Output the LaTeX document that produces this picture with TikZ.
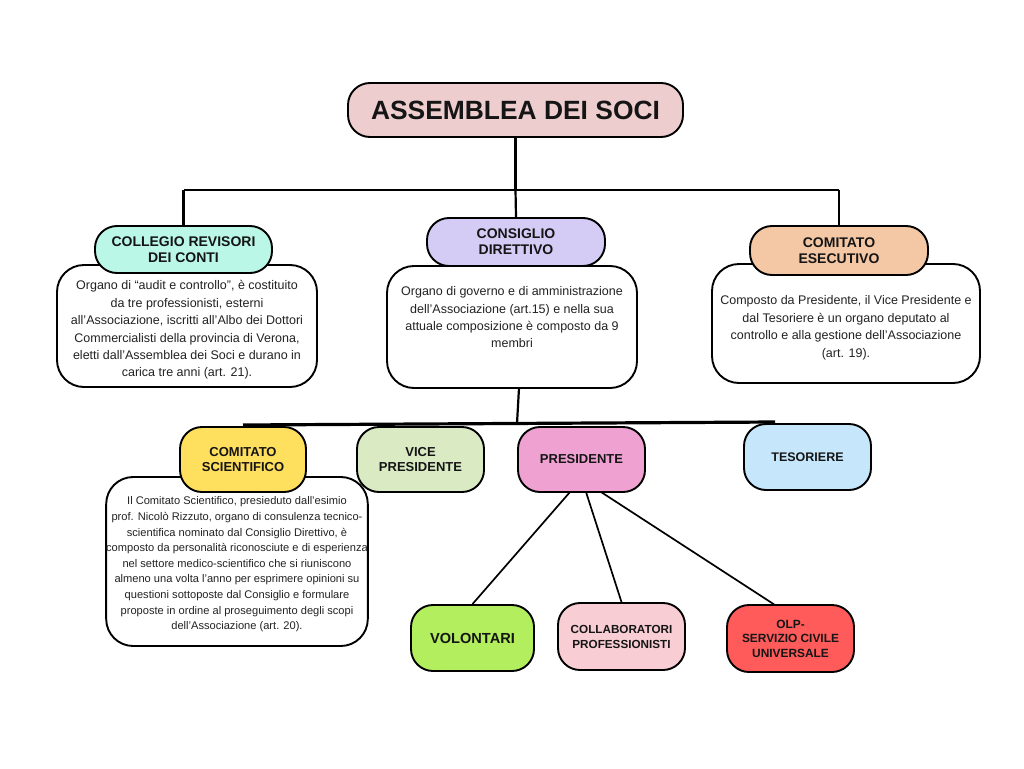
\documentclass[tikz,border=0pt]{standalone}
\usepackage{fontspec}
\setmainfont{Liberation Sans}
\usetikzlibrary{calc}
\definecolor{cAss}{HTML}{EECDCF}
\definecolor{cCol}{HTML}{BAF7E7}
\definecolor{cCon}{HTML}{D4CCF5}
\definecolor{cEse}{HTML}{F5C8A5}
\definecolor{cSci}{HTML}{FFDF5E}
\definecolor{cVic}{HTML}{DAEBC4}
\definecolor{cPre}{HTML}{EFA2D2}
\definecolor{cTes}{HTML}{C6E6FB}
\definecolor{cVol}{HTML}{B2EE5E}
\definecolor{cClb}{HTML}{F8CED4}
\definecolor{cOlp}{HTML}{FF5B5B}
\definecolor{txt}{HTML}{151515}
\definecolor{dtxt}{HTML}{222222}
\newcommand{\pushdn}[1]{\rule{0pt}{#1}}
\tikzset{
  titlebox/.style={draw=black, line width=1.9pt, rounded corners=22pt, align=center,
    inner sep=0pt, text=txt, font=\bfseries\fontsize{14}{16}\selectfont},
  smallbox/.style={titlebox, font=\bfseries\fontsize{13}{15}\selectfont,
    minimum width=127pt, minimum height=65pt},
  descbox/.style={draw=black, line width=1.9pt, rounded corners=27pt, fill=white,
    align=center, inner sep=0pt, text=dtxt, font=\fontsize{12.5}{17.4}\selectfont},
  link/.style={draw=black, line width=2.2pt},
  bus/.style={draw=black, line width=3.2pt}
}
\begin{document}
\begin{tikzpicture}[x=1pt,y=-1pt]
\useasboundingbox (0,0) rectangle (1024,768);
\fill[white] (0,0) rectangle (1024,768);

% top
\node[titlebox, fill=cAss, minimum width=335pt, minimum height=54pt,
  font=\bfseries\fontsize{26.4}{30}\selectfont] (ass) at (515.5,110) {ASSEMBLEA DEI SOCI};

\coordinate (jM) at (515.5,190);
\coordinate (jL) at (183.5,190);
\coordinate (jR) at (839,190);

% descriptions (drawn first)
\node[descbox, minimum width=260pt, minimum height=122pt] (coldesc) at (187,326)
  {\pushdn{17.5pt}Organo di “audit e controllo”, è costituito\\da tre professionisti, esterni\\all’Associazione, iscritti all’Albo dei Dottori\\Commercialisti della provincia di Verona,\\eletti dall’Assemblea dei Soci e durano in\\carica tre anni (art. 21).};
\node[descbox, minimum width=250pt, minimum height=122pt] (condesc) at (512,327)
  {Organo di governo e di amministrazione\\dell’Associazione (art.15) e nella sua\\attuale composizione è composto da 9\\membri\\[2pt]};
\node[descbox, minimum width=268pt, minimum height=119pt] (esedesc) at (846,323.5)
  {\pushdn{17.5pt}Composto da Presidente, il Vice Presidente e\\dal Tesoriere è un organo deputato al\\controllo e alla gestione dell’Associazione\\(art. 19).};

% titles
\node[titlebox, fill=cCol, minimum width=177pt, minimum height=47pt] (col) at (183.5,249.5)
  {COLLEGIO REVISORI\\DEI CONTI};
\node[titlebox, fill=cCon, minimum width=178pt, minimum height=48pt] (con) at (516,242)
  {CONSIGLIO\\DIRETTIVO};
\node[titlebox, fill=cEse, minimum width=178pt, minimum height=49pt] (ese) at (839,250.5)
  {COMITATO\\ESECUTIVO};

\draw[link] (ass.south) -- (jM);
\draw[link] (jL) -- (jR);
\draw[link] (jL) -- (col.north);
\draw[link] (jM) -- (con.north);
\draw[link] (jR) -- (ese.north);

% second level
\coordinate (cdOut) at (519,388);
\coordinate (busM) at (517,423.5);
\coordinate (busL) at (243,425);
\coordinate (busR) at (775,422);
\draw[link] (cdOut) -- (busM);
\draw[bus] (busL) -- (busR);

\node[descbox, minimum width=260pt, minimum height=169pt,
  font=\fontsize{11.1}{15.6}\selectfont] (scidesc) at (237,561.5)
  {\pushdn{14pt}Il Comitato Scientifico, presieduto dall’esimio\\prof. Nicolò Rizzuto, organo di consulenza tecnico-\\scientifica nominato dal Consiglio Direttivo, è\\composto da personalità riconosciute e di esperienza\\nel settore medico-scientifico che si riuniscono\\almeno una volta l’anno per esprimere opinioni su\\questioni sottoposte dal Consiglio e formulare\\proposte in ordine al proseguimento degli scopi\\dell’Associazione (art. 20).};

\node[smallbox, fill=cSci, minimum width=126pt] (sci) at (243,459.5) {COMITATO\\SCIENTIFICO};
\node[smallbox, fill=cVic] (vic) at (420.5,459.5) {VICE\\PRESIDENTE};
\node[smallbox, fill=cPre] (pre) at (581.5,459.5) {PRESIDENTE};
\node[smallbox, fill=cTes, minimum height=66pt, font=\bfseries\fontsize{12.5}{15}\selectfont] (tes) at (807.5,457) {TESORIERE};

% third level
\node[smallbox, fill=cVol, minimum width=123pt, minimum height=66pt,
  font=\bfseries\fontsize{14.6}{17}\selectfont] (vol) at (472.5,638) {VOLONTARI};
\node[smallbox, fill=cClb, minimum height=67pt,
  font=\bfseries\fontsize{11.7}{15}\selectfont] (clb) at (621.5,636.5) {COLLABORATORI\\PROFESSIONISTI};
\node[smallbox, fill=cOlp, minimum height=67pt,
  font=\bfseries\fontsize{11.9}{14.5}\selectfont] (olp) at (790.5,638.5) {OLP-\\SERVIZIO CIVILE\\UNIVERSALE};

\coordinate (p1) at (570,492);
\coordinate (p2) at (586,492);
\coordinate (p3) at (601,492);
\coordinate (olpTop) at (775,605);
\draw[link, line width=1.7pt] (p1) -- (vol.north);
\draw[link, line width=1.7pt] (p2) -- (clb.north);
\draw[link, line width=1.7pt] (p3) -- (olpTop);
\end{tikzpicture}
\end{document}
